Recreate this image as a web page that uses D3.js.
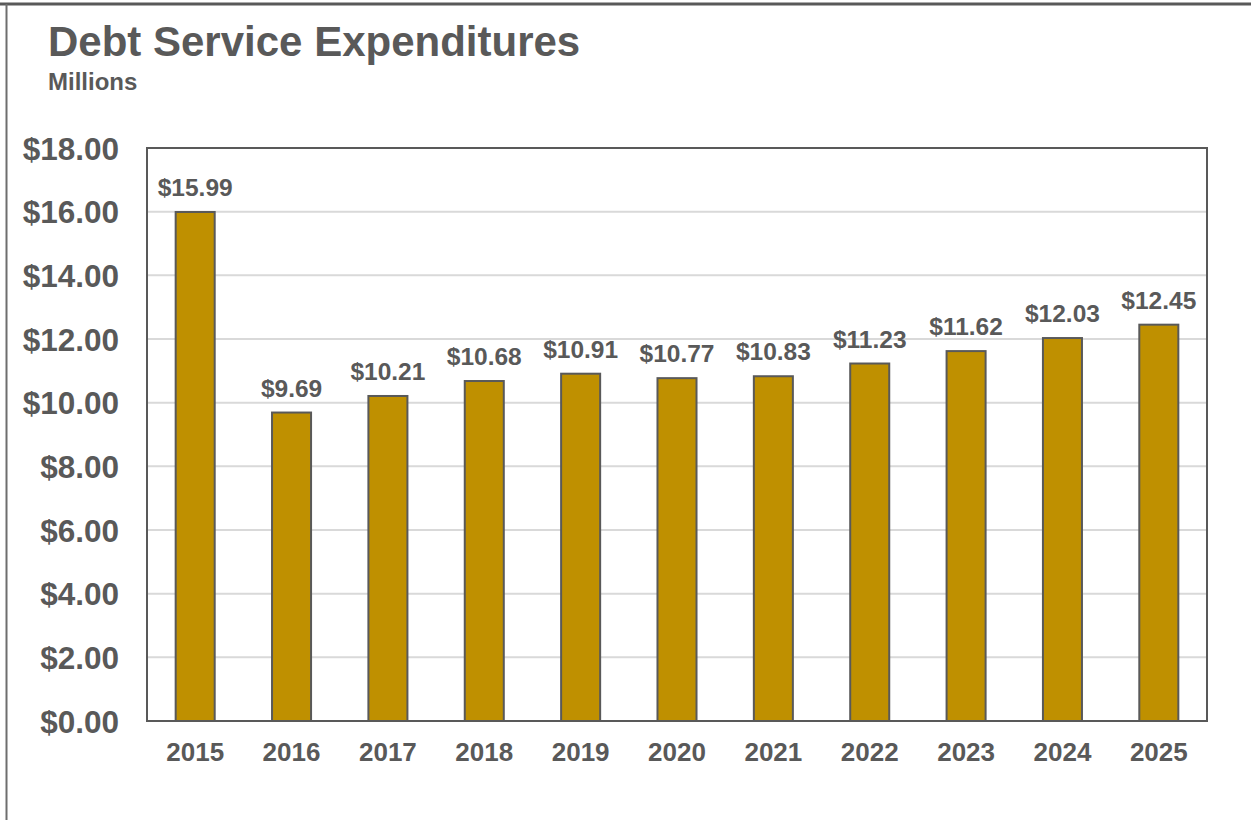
<!DOCTYPE html>
<html>
<head>
<meta charset="utf-8">
<script src="https://cdn.jsdelivr.net/npm/d3@7"></script>
<style>
  html, body { margin: 0; padding: 0; background: #fff; }
  svg { display: block; font-family: "Liberation Sans", Arial, sans-serif; }
</style>
</head>
<body>
<svg id="chart" width="1251" height="820"></svg>
<script>
const categories = ["2015","2016","2017","2018","2019","2020","2021","2022","2023","2024","2025"];
const values = [15.99, 9.69, 10.21, 10.68, 10.91, 10.77, 10.83, 11.23, 11.62, 12.03, 12.45];
const yTicks = [0, 2, 4, 6, 8, 10, 12, 14, 16, 18];
const titleText = "Debt Service Expenditures";
const subtitleText = "Millions";

const svg = d3.select("#chart");
const W = 1251, H = 820;
const plot = { left: 147, right: 1207, top: 148, bottom: 721 };
const textColor = "#595959";

svg.append("rect").attr("width", W).attr("height", H).attr("fill", "#fff");

// outer frame lines
svg.append("line").attr("x1", 0).attr("x2", W).attr("y1", 4).attr("y2", 4)
  .attr("stroke", "#595959").attr("stroke-width", 3);
svg.append("line").attr("x1", 6.5).attr("x2", 6.5).attr("y1", 4).attr("y2", H)
  .attr("stroke", "#6e6e6e").attr("stroke-width", 2);

// titles
svg.append("text").attr("x", 48).attr("y", 56).text(titleText)
  .attr("font-size", 42).attr("font-weight", "bold").attr("fill", textColor);
svg.append("text").attr("x", 48).attr("y", 90).text(subtitleText)
  .attr("font-size", 24).attr("font-weight", "bold").attr("fill", textColor);

const x = d3.scaleBand().domain(categories).range([plot.left, plot.right]).paddingInner(0.595).paddingOuter(0.2975);
const y = d3.scaleLinear().domain([0, 18]).range([plot.bottom, plot.top]);

// gridlines
svg.append("g").selectAll("line").data(yTicks.filter(t => t > 0 && t < 18)).join("line")
  .attr("x1", plot.left).attr("x2", plot.right)
  .attr("y1", d => y(d)).attr("y2", d => y(d))
  .attr("stroke", "#d9d9d9").attr("stroke-width", 2);

// bars
svg.append("g").selectAll("rect").data(values).join("rect")
  .attr("x", (d, i) => x(categories[i]))
  .attr("width", x.bandwidth())
  .attr("y", d => y(d))
  .attr("height", d => y(0) - y(d))
  .attr("fill", "#BF9000").attr("stroke", "#595959").attr("stroke-width", 2);

// plot border
svg.append("rect").attr("x", plot.left).attr("y", plot.top)
  .attr("width", plot.right - plot.left).attr("height", plot.bottom - plot.top)
  .attr("fill", "none").attr("stroke", "#595959").attr("stroke-width", 2);

// data labels
svg.append("g").selectAll("text").data(values).join("text")
  .attr("x", (d, i) => x(categories[i]) + x.bandwidth() / 2)
  .attr("y", d => y(d) - 16)
  .attr("text-anchor", "middle")
  .attr("font-size", 24.5).attr("font-weight", "bold").attr("fill", textColor)
  .text(d => "$" + d.toFixed(2));

// y axis
const yAxis = d3.axisLeft(y).tickValues(yTicks).tickSize(0).tickPadding(0)
  .tickFormat(d => "$" + d3.format(".2f")(d));
const gy = svg.append("g").attr("transform", `translate(119,0)`).call(yAxis);
gy.select(".domain").remove();
gy.selectAll("text").attr("font-size", 31.5).attr("font-weight", "bold")
  .attr("fill", textColor).attr("font-family", "Liberation Sans, Arial, sans-serif")
  .attr("dy", "0.35em");

// x axis
const xAxis = d3.axisBottom(x).tickSize(0).tickPadding(0);
const gx = svg.append("g").attr("transform", `translate(0,${plot.bottom})`).call(xAxis);
gx.select(".domain").remove();
gx.selectAll("text").attr("font-size", 26).attr("font-weight", "bold")
  .attr("fill", textColor).attr("font-family", "Liberation Sans, Arial, sans-serif")
  .attr("y", 31).attr("dy", "0.35em");
</script>
</body>
</html>
